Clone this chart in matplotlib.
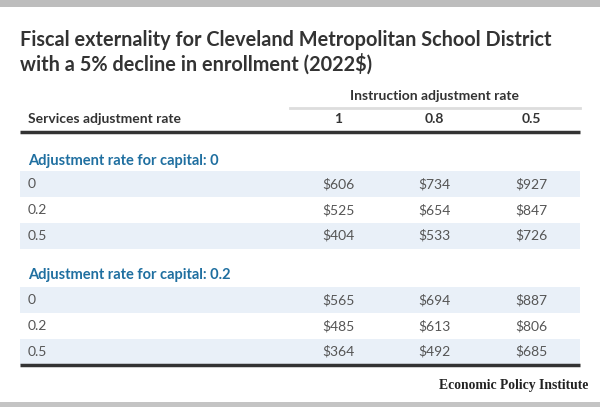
import matplotlib.pyplot as plt
from matplotlib.patches import Rectangle

title = "Fiscal externality for Cleveland Metropolitan School District\nwith a 5% decline in enrollment (2022$)"
instruction_rates = ["1", "0.8", "0.5"]
services_rates = ["0", "0.2", "0.5"]
capital_rates = ["0", "0.2"]
# rows = services rate, columns = instruction rate
values_cap0 = [[606, 734, 927],
               [525, 654, 847],
               [404, 533, 726]]
values_cap02 = [[565, 694, 887],
                [485, 613, 806],
                [364, 492, 685]]
source = "Economic Policy Institute"

plt.rcParams['font.family'] = ['Lato', 'DejaVu Sans']

fig = plt.figure(figsize=(6, 4.07), dpi=100)
ax = fig.add_axes([0, 0, 1, 1])
ax.set_xlim(0, 600)
ax.set_ylim(407, 0)
ax.axis('off')

dark = '#333333'
grey = '#555555'
blue = '#1f6fa0'
band = '#e9f0f8'
col_x = [338, 434, 531]
left, right = 20, 580

# top / bottom grey strips
ax.add_patch(Rectangle((0, 0), 600, 7, color='#bdbdbd', lw=0))
ax.add_patch(Rectangle((0, 402), 600, 5, color='#c4c4c4', lw=0))

ax.text(20, 30, title, fontsize=14.3, fontweight='bold', color=dark,
        va='top', ha='left', linespacing=1.2)

# header
ax.text(435, 96, "Instruction adjustment rate", fontsize=10, color=dark,
        ha='center', va='center', fontweight='bold')
ax.plot([290, right], [108, 108], color='#dddddd', lw=2)
ax.text(28, 119, "Services adjustment rate", fontsize=10, color=dark,
        ha='left', va='center', fontweight='bold')
for x, lab in zip(col_x, instruction_rates):
    ax.text(x, 119, lab, fontsize=10, color=dark, ha='center', va='center',
            fontweight='bold')
ax.plot([left, right], [132, 132], color=dark, lw=2.5, solid_capstyle='butt')

row_h = 25.8
sections = [(161, 184, values_cap0), (275, 300, values_cap02)]
for (lab_y, y0, vals), cap in zip(sections, capital_rates):
    ax.text(28, lab_y, f"Adjustment rate for capital: {cap}", fontsize=10.5,
            color=blue, fontweight='bold', ha='left', va='center')
    for i, (srate, row) in enumerate(zip(services_rates, vals)):
        y = y0 + i * row_h
        if i % 2 == 0:
            ax.add_patch(Rectangle((left, y - row_h / 2), right - left, row_h,
                                   color=band, lw=0))
        ax.text(28, y, srate, fontsize=10, color=grey, ha='left', va='center')
        for x, v in zip(col_x, row):
            ax.text(x, y, f"${v}", fontsize=10, color=grey, ha='center',
                    va='center')

ax.plot([left, right], [365, 365], color=dark, lw=2.5, solid_capstyle='butt')

ax.text(588, 386, source, fontsize=9.8, fontweight='bold', color='#222222',
        family=['Liberation Serif', 'DejaVu Serif'], ha='right', va='center')

fig.savefig('out.png', dpi=100)
